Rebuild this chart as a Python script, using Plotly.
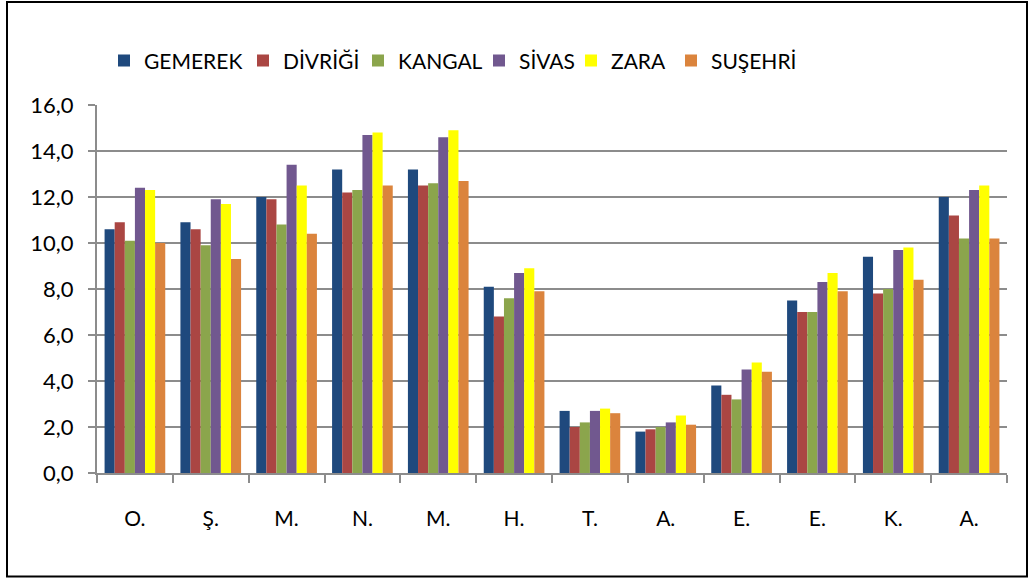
import plotly.graph_objects as go

months = ["O.", "Ş.", "M.", "N.", "M.", "H.", "T.", "A.", "E.", "E.", "K.", "A."]
gemerek = [10.6, 10.9, 12.0, 13.2, 13.2, 8.1, 2.7, 1.8, 3.8, 7.5, 9.4, 12.0]
divrigi = [10.9, 10.6, 11.9, 12.2, 12.5, 6.8, 2.0, 1.9, 3.4, 7.0, 7.8, 11.2]
kangal = [10.1, 9.9, 10.8, 12.3, 12.6, 7.6, 2.2, 2.0, 3.2, 7.0, 8.0, 10.2]
sivas = [12.4, 11.9, 13.4, 14.7, 14.6, 8.7, 2.7, 2.2, 4.5, 8.3, 9.7, 12.3]
zara = [12.3, 11.7, 12.5, 14.8, 14.9, 8.9, 2.8, 2.5, 4.8, 8.7, 9.8, 12.5]
susehri = [10.0, 9.3, 10.4, 12.5, 12.7, 7.9, 2.6, 2.1, 4.4, 7.9, 8.4, 10.2]

series = [
    ("GEMEREK", gemerek, "#1F497D"),
    ("DİVRİĞİ", divrigi, "#AA4643"),
    ("KANGAL", kangal, "#8BA54C"),
    ("SİVAS", sivas, "#71588F"),
    ("ZARA", zara, "#FFFF00"),
    ("SUŞEHRİ", susehri, "#DB843D"),
]
# left edge (px) of each legend entry
legend_px = [104, 243, 358, 479, 571, 671]

x = list(range(len(months)))
fig = go.Figure()
legends = {}
for i, (name, vals, col) in enumerate(series):
    key = "legend" if i == 0 else f"legend{i + 1}"
    fig.add_trace(go.Bar(x=x, y=vals, name=name, legend=key,
                         marker=dict(color=col, line=dict(width=0))))
    legends[key] = dict(orientation="h", x=(legend_px[i] - 97) / 910, y=1.12,
                        xanchor="left", yanchor="middle", font=dict(size=21),
                        bgcolor="rgba(0,0,0,0)")

font = "Lato, Noto Sans, sans-serif"
fig.update_layout(
    width=1029, height=579,
    margin=dict(l=97, r=22, t=105, b=106, pad=0),
    paper_bgcolor="white", plot_bgcolor="white",
    barmode="group", bargap=0.2, bargroupgap=0,
    separators=",.",
    font=dict(family=font, size=21, color="black"),
    showlegend=True,
    xaxis=dict(
        range=[-0.5, 11.5], tickvals=x, ticktext=months,
        ticks="outside", ticklen=26, tickcolor="rgba(0,0,0,0)",
        showgrid=False, showline=True, linecolor="#8C8C8C", linewidth=2,
        zeroline=False,
        minor=dict(tick0=-0.5, dtick=1, ticks="outside", ticklen=8, tickcolor="#8C8C8C", tickwidth=2, showgrid=False),
        tickfont=dict(size=21),
    ),
    yaxis=dict(
        range=[0, 16], tickvals=[0, 2, 4, 6, 8, 10, 12, 14, 16], tickformat=".1f",
        ticks="outside", ticklen=7, tickcolor="#8C8C8C", tickwidth=2,
        showgrid=True, gridcolor="#8C8C8C", gridwidth=2,
        showline=True, linecolor="#8C8C8C", linewidth=2, zeroline=False,
        ticklabelstandoff=10, tickfont=dict(size=22),
    ),
    shapes=[dict(type="rect", xref="paper", yref="paper",
                 x0=(7 - 97) / 910, x1=(1027 - 97) / 910,
                 y0=(473.3 - 577) / 368.3, y1=(473.3 - 2) / 368.3,
                 line=dict(color="black", width=2), fillcolor="rgba(0,0,0,0)")],
    **legends,
)

fig.write_html("out.html", config={"displayModeBar": False},
               post_script="document.body.style.margin='0';")
